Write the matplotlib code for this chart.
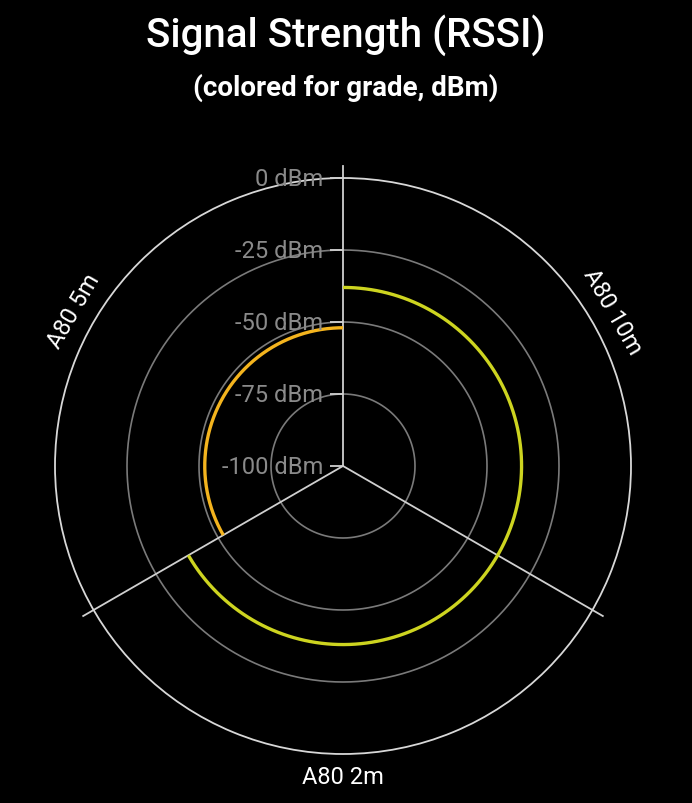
import numpy as np
import matplotlib
matplotlib.use("Agg")
import matplotlib.pyplot as plt
from matplotlib.transforms import offset_copy

categories = ["A80 10m", "A80 2m", "A80 5m"]
values = [-38, -38, -52]
colors = ["#cdd420", "#cdd420", "#f4b41e"]
r_ticks = [0, -25, -50, -75, -100]
r_tick_labels = ["0 dBm", "-25 dBm", "-50 dBm", "-75 dBm", "-100 dBm"]
title = "Signal Strength (RSSI)"
subtitle = "(colored for grade, dBm)"

plt.rcParams['font.family'] = ['Roboto', 'DejaVu Sans']

W, H = 692, 804
fig = plt.figure(figsize=(W / 100, H / 100), dpi=100, facecolor="black")
cx, cy, R = 343, 467, 288
ax = fig.add_axes([(cx - R) / W, (H - cy - R) / H, 2 * R / W, 2 * R / H],
                  projection="polar", facecolor="black")
ax.set_theta_zero_location("N")
ax.set_theta_direction(-1)
rmin, rmax = -100, 0
ax.set_ylim(rmin, rmax)

n = len(categories)
sector = 2 * np.pi / n

# grid
ax.grid(False)
ax.set_xticks([])
ax.set_yticks([])
ax.spines["polar"].set_color("#d8d8d8")
ax.spines["polar"].set_linewidth(1.3)
full = np.linspace(0, 2 * np.pi, 361)
for rv in r_ticks:
    if rv in (rmin, rmax):
        continue
    ax.plot(full, np.full_like(full, rv), color="#7a7a7a", lw=1.2, zorder=1)

# spokes
ext = rmin + (300 / R) * (rmax - rmin)
for i in range(n):
    ax.plot([i * sector, i * sector], [rmin, ext], color="#d0d0d0", lw=1.3,
            clip_on=False, zorder=2)

# series arcs
for i, (v, c) in enumerate(zip(values, colors)):
    th = np.linspace(i * sector, (i + 1) * sector, 200)
    ax.plot(th, np.full_like(th, v), color=c, lw=2.4, zorder=3, solid_capstyle="butt")

# radial tick marks and labels
lab_tr = offset_copy(ax.transData, fig=fig, x=-20, y=-1, units="dots")
for rv, lab in zip(r_ticks, r_tick_labels):
    ax.plot([0], [rv], marker=[(-1, 0), (0, 0)], markersize=18.7, color="#d0d0d0",
            mew=1.3, clip_on=False, zorder=4)
    ax.text(0, rv, lab, transform=lab_tr, ha="right", va="center",
            color="#8a8a8a", fontsize=17, zorder=5, clip_on=False)

# category labels
lab_r = rmin + (311 / R) * (rmax - rmin)
for i, cat in enumerate(categories):
    th = (i + 0.5) * sector
    deg = np.degrees(th)
    rot = -deg
    if 90 < deg < 270:
        rot = 180 - deg
    ax.text(th, lab_r, cat, ha="center", va="center", rotation=rot,
            rotation_mode="anchor", color="white", fontsize=17, clip_on=False)

fig.text(0.5, 1 - 35 / H, title, ha="center", va="center", color="white",
         fontsize=29, fontweight="medium")
fig.text(0.5, 1 - 88 / H, subtitle, ha="center", va="center", color="white",
         fontsize=20, fontweight="bold")

fig.savefig("out.png", dpi=100, facecolor="black")
